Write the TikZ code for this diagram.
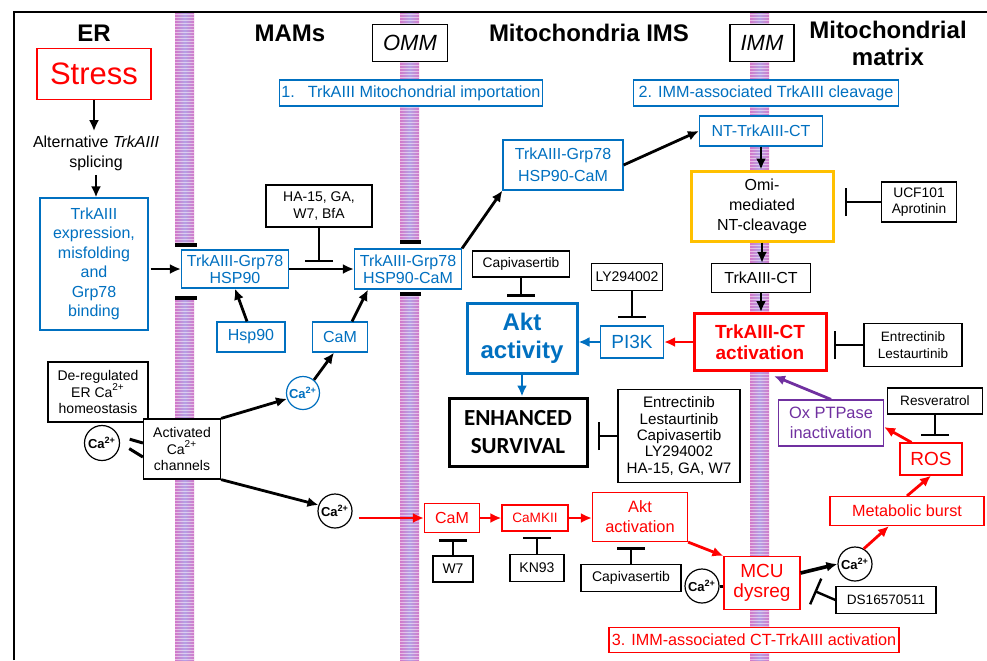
\documentclass[tikz,border=0pt]{standalone}
\usepackage{fontspec}
\setmainfont{Liberation Sans}
\newfontfamily\survfont{Carlito}
\usetikzlibrary{arrows.meta}
\definecolor{trkblue}{RGB}{0,112,192}
\definecolor{trkred}{RGB}{255,0,0}
\definecolor{omiorange}{RGB}{255,192,0}
\definecolor{oxpurple}{RGB}{112,48,160}
\definecolor{mempink}{RGB}{210,120,200}
\definecolor{memlav}{RGB}{180,160,228}
\newcommand{\fsz}[2]{\fontsize{#1}{#2}\selectfont}
\newcommand{\caion}{Ca\textsuperscript{2+}}

\begin{document}
\begin{tikzpicture}[x=0.5pt,y=-0.5pt,
	pbox/.style={draw, fill=white, align=center, inner sep=0pt, line width=0.6pt, font=\fsz{8}{10}},
	bluebox/.style={pbox, draw=trkblue, text=trkblue},
	redbox/.style={pbox, draw=trkred, text=trkred},
	drugbox/.style={pbox, font=\fsz{7}{8.4}},
	ionnode/.style={circle, draw, fill=white, line width=0.6pt, minimum size=17pt, inner sep=0pt, font=\bfseries\fsz{6.5}{7}},
	header/.style={font=\bfseries\fsz{12}{13.5}, align=center},
	blkarrow/.style={-{Latex[length=5.5pt,width=5pt]}, line width=1.4pt},
	redarrow/.style={blkarrow, trkred},
	bluearrow/.style={blkarrow, trkblue},
	inhibit/.style={-{Bar[width=14pt]}, line width=1.2pt},
	chan/.style={line width=1.5pt}]
	\useasboundingbox (0,0) rectangle (987,660);
	% frame
	\draw[line width=0.8pt] (14,660) -- (14,12) -- (987,12);
	% membranes (ER, OMM, IMM)
	\foreach \mx in {175,400,750}{
		\shade[left color=mempink, right color=mempink, middle color=memlav] (\mx,13) rectangle ++(19,647);
		\foreach \my in {14,17,...,659}
			\draw[white, opacity=0.5, line width=0.5pt] (\mx,\my) -- ++(19,0);
	}
	\fill[white] (174,246) rectangle (197,297);
	\fill[white] (399,242) rectangle (422,294);
	\foreach \y in {245,298}{\draw[line width=2pt] (175,\y) -- (197,\y);}
	\foreach \y in {242,294}{\draw[line width=2pt] (400,\y) -- (421,\y);}
	
	% compartment titles
	\node[header] (ertitle) at (94,33) {ER};
	\node[header] (mamtitle) at (290,33) {MAMs};
	\node[header] (imstitle) at (589,33) {Mitochondria IMS};
	\node[header] (mattitle) at (888,43) {Mitochondrial\\matrix};
	\node[pbox, minimum width=37.5pt, minimum height=18.5pt, font=\itshape\fsz{11}{12}] (omm) at (410,43) {OMM};
	\node[pbox, minimum width=32pt, minimum height=18.5pt, font=\itshape\fsz{11}{12}] (imm) at (762,43) {IMM};
	\node[bluebox, minimum width=131.5pt, minimum height=13pt, font=\fsz{8.1}{9}] (step1) at (411,93) {1.\hspace{0.8em}TrkAIII Mitochondrial importation};
	\node[bluebox, minimum width=132.5pt, minimum height=13pt, font=\fsz{8.1}{9}] (step2) at (766,93) {2. IMM-associated TrkAIII cleavage};
	\node[redbox, minimum width=145pt, minimum height=12.5pt, font=\fsz{8.1}{9}] (step3) at (754,640) {3. IMM-associated CT-TrkAIII activation};
	
	% ER side
	\node[redbox, minimum width=57pt, minimum height=25.5pt, font=\fsz{15.5}{17}] (stress) at (94,74) {Stress};
	\node[align=center, inner sep=2pt, font=\fsz{8}{10}] (altspl) at (96,153) {Alternative \textit{TrkAIII}\\splicing};
	\node[bluebox, minimum width=54pt, minimum height=66pt, font=\fsz{8}{9.75}] (expr) at (94,264) {TrkAIII\\expression,\\misfolding\\and\\Grp78\\binding};
	\node[drugbox, minimum width=50pt, minimum height=30pt] (dereg) at (98,392) {De-regulated\\ER \caion\\homeostasis};
	\node[ionnode, minimum size=17.5pt] (ca_l) at (102,443) {\caion};
	\node[drugbox, minimum width=38.5pt, minimum height=30pt] (actch) at (182,449) {Activated\\\caion\\channels};
	
	% MAMs
	\node[bluebox, minimum width=53.5pt, minimum height=19pt, font=\fsz{8}{8.6}] (grp) at (235,269) {TrkAIII-Grp78\\HSP90};
	\node[drugbox, minimum width=53pt, minimum height=21pt] (ha15) at (319,206) {HA-15, GA,\\W7, BfA};
	\node[bluebox, minimum width=34pt, minimum height=15pt] (hsp) at (251,337) {Hsp90};
	\node[bluebox, minimum width=27.5pt, minimum height=15pt] (cam_b) at (340,337) {CaM};
	\node[ionnode, draw=trkblue, text=trkblue, minimum size=16.5pt] (ca_b) at (303,393) {\caion};
	\node[ionnode] (ca_m) at (335,511) {\caion};
	\node[bluebox, minimum width=53.5pt, minimum height=20pt, font=\fsz{8}{8.6}] (grpcam) at (408,269) {TrkAIII-Grp78\\HSP90-CaM};
	
	% IMS
	\node[bluebox, minimum width=60pt, minimum height=25pt, font=\fsz{8}{10.8}] (grpcam_u) at (563,165) {TrkAIII-Grp78\\HSP90-CaM};
	\node[drugbox, minimum width=48.5pt, minimum height=13pt, font=\fsz{6.9}{8}] (capi_u) at (521,264) {Capivasertib};
	\node[pbox, draw=trkblue, text=trkblue, line width=1.5pt, minimum width=55pt, minimum height=35pt, font=\bfseries\fsz{12}{13.8}] (akt) at (522,338) {Akt\\activity};
	\node[drugbox, minimum width=35.5pt, minimum height=13.5pt] (ly) at (627,277) {LY294002};
	\node[bluebox, minimum width=31.5pt, minimum height=16pt, font=\fsz{9.5}{10}] (pi3k) at (632,342) {PI3K};
	\node[pbox, line width=1.5pt, minimum width=69pt, minimum height=34pt, font=\survfont\bfseries\fsz{11.5}{14}] (enh) at (518,432) {ENHANCED\\SURVIVAL};
	\node[drugbox, minimum width=61pt, minimum height=46.5pt, font=\fsz{7.6}{8.2}] (inh5) at (679,436) {Entrectinib\\Lestaurtinib\\Capivasertib\\LY294002\\HA-15, GA, W7};
	\node[redbox, minimum width=27.5pt, minimum height=14.5pt] (cam_r) at (452,518) {CaM};
	\node[redbox, minimum width=33pt, minimum height=13pt, font=\fsz{6.8}{8}] (camk) at (535,518) {CaMKII};
	\node[redbox, minimum width=47.5pt, minimum height=24.5pt, font=\fsz{8.2}{10}] (aktact) at (640,517) {Akt\\activation};
	\node[drugbox, minimum width=20pt, minimum height=13pt] (w7) at (453,569) {W7};
	\node[drugbox, minimum width=27pt, minimum height=13.5pt] (kn93) at (537,568) {KN93};
	\node[drugbox, minimum width=50pt, minimum height=13.5pt] (capi_l) at (631,578) {Capivasertib};
	\node[ionnode] (ca_mcu) at (702,586) {\caion};
	
	% IMM and matrix
	\node[bluebox, minimum width=61.5pt, minimum height=15pt] (ntct) at (761,131) {NT-TrkAIII-CT};
	\node[pbox, draw=omiorange, line width=1.5pt, minimum width=71pt, minimum height=35pt] (omi) at (762,206) {Omi-\\mediated\\NT-cleavage};
	\node[drugbox, minimum width=37.5pt, minimum height=20pt, font=\fsz{6.9}{7.8}] (ucf) at (919,202) {UCF101\\Aprotinin};
	\node[pbox, minimum width=49.5pt, minimum height=14.5pt] (ct) at (761,278) {TrkAIII-CT};
	\node[pbox, draw=trkred, text=trkred, line width=1.5pt, minimum width=66pt, minimum height=28.5pt, font=\bfseries\fsz{9.5}{10.5}] (ctact) at (760,342) {TrkAIII-CT\\activation};
	\node[drugbox, minimum width=49pt, minimum height=21.5pt, font=\fsz{6.8}{8.5}] (entle) at (913,345) {Entrectinib\\Lestaurtinib};
	\node[drugbox, minimum width=47.5pt, minimum height=13pt, font=\fsz{6.8}{8}] (resv) at (935,401) {Resveratrol};
	\node[pbox, draw=oxpurple, text=oxpurple, minimum width=52.5pt, minimum height=23pt, font=\fsz{8.2}{10}] (oxp) at (831,423) {Ox PTPase\\inactivation};
	\node[redbox, minimum width=31pt, minimum height=16pt, font=\fsz{9.5}{10}] (ros) at (931,459) {ROS};
	\node[redbox, minimum width=77pt, minimum height=14.5pt, font=\fsz{8.1}{9}] (metab) at (907,511) {Metabolic burst};
	\node[ionnode] (ca_r) at (855,564) {\caion};
	\node[redbox, minimum width=38pt, minimum height=26.5pt, font=\fsz{9.5}{10.3}] (mcu) at (762,583) {MCU\\dysreg};
	\node[drugbox, minimum width=50pt, minimum height=13.5pt, font=\fsz{6.8}{8}] (ds) at (886,600) {DS16570511};
	
	% ER to MAMs
	\draw[blkarrow] (stress.south) -- (stress.south |- altspl.north);
	\draw[blkarrow] (altspl.south) -- (altspl.south |- expr.north);
	\draw[blkarrow, shorten <=1pt] (expr.east |- grp.west) -- (grp.west);
	\draw[blkarrow] (grp.east) -- (grpcam.west);
	\draw[inhibit, shorten >=3.5pt] (ha15.south) -- (ha15.south |- grp.east);
	\draw[blkarrow] ([xshift=-2pt]hsp.north) -- (grp.south);
	\draw[blkarrow] ([xshift=6pt]cam_b.north) -- ([xshift=-20pt]grpcam.south);
	\draw[blkarrow] (ca_b.50) -- ([xshift=-3pt]cam_b.south);
	\draw[chan] ([xshift=5pt]ca_l.12) -- ([yshift=3pt]actch.west);
	\draw[chan] ([xshift=5pt]ca_l.-18) -- ([yshift=-4pt]actch.west);
	\draw[blkarrow] (actch.north east) -- (ca_b.200);
	\draw[blkarrow] (actch.south east) -- (ca_m.160);
	
	% importation and cleavage
	\draw[blkarrow] (grpcam.north east) -- (grpcam_u.south west);
	\draw[blkarrow] (grpcam_u.east) -- (ntct.west);
	\draw[blkarrow] (ntct.south) -- (ntct.south |- omi.north);
	\draw[inhibit, shorten >=5pt] (ucf.west) -- (ucf.west -| omi.east);
	\draw[blkarrow] (omi.south) -- (omi.south |- ct.north);
	\draw[blkarrow] (ct.south) -- (ct.south |- ctact.north);
	\draw[inhibit, shorten >=3pt] (entle.west) -- (entle.west -| ctact.east);
	
	% survival signalling
	\draw[redarrow] (ctact.west) -- (ctact.west -| pi3k.east);
	\draw[bluearrow] (pi3k.west) -- (pi3k.west -| akt.east);
	\draw[inhibit, shorten >=3.5pt] (ly.south -| pi3k.north) -- (pi3k.north);
	\draw[inhibit, shorten >=2.5pt] (capi_u.south) -- (capi_u.south |- akt.north);
	\draw[bluearrow] (akt.south) -- (akt.south |- enh.north);
	\draw[inhibit, shorten >=4.5pt] (inh5.west) -- (inh5.west -| enh.east);
	
	% calcium route
	\draw[redarrow, shorten <=3pt] (ca_m.east |- cam_r.west) -- (cam_r.west);
	\draw[redarrow] (cam_r.east) -- (cam_r.east -| camk.west);
	\draw[redarrow] (camk.east) -- (camk.east -| aktact.west);
	\draw[inhibit, shorten >=3pt] (w7.north) -- (w7.north |- cam_r.south);
	\draw[inhibit, shorten >=2.5pt] (kn93.north) -- (kn93.north |- camk.south);
	\draw[inhibit, shorten >=2.5pt] (capi_l.north) -- (capi_l.north |- aktact.south);
	\draw[redarrow] (aktact.south east) -- (mcu.north west);
	\draw[chan] (ca_mcu.east) -- (ca_mcu.east -| mcu.west);
	\draw[blkarrow, line width=1.8pt] ([yshift=5pt]mcu.east) -- (ca_r.west);
	\draw[inhibit] (ds.west) -- ([xshift=7pt,yshift=-4pt]mcu.east);
	\draw[redarrow] (ca_r.60) -- ([xshift=-9pt]metab.south);
	\draw[redarrow] (metab.north) -- (ros.south);
	\draw[inhibit, shorten >=3pt] (resv.south) -- (resv.south |- ros.north);
	\draw[redarrow] ([xshift=6pt]ros.north west) -- ([yshift=-2pt]oxp.east);
	\draw[blkarrow, oxpurple] (oxp.north) -- ([xshift=7pt,yshift=-2pt]ctact.south);
\end{tikzpicture}
\end{document}
